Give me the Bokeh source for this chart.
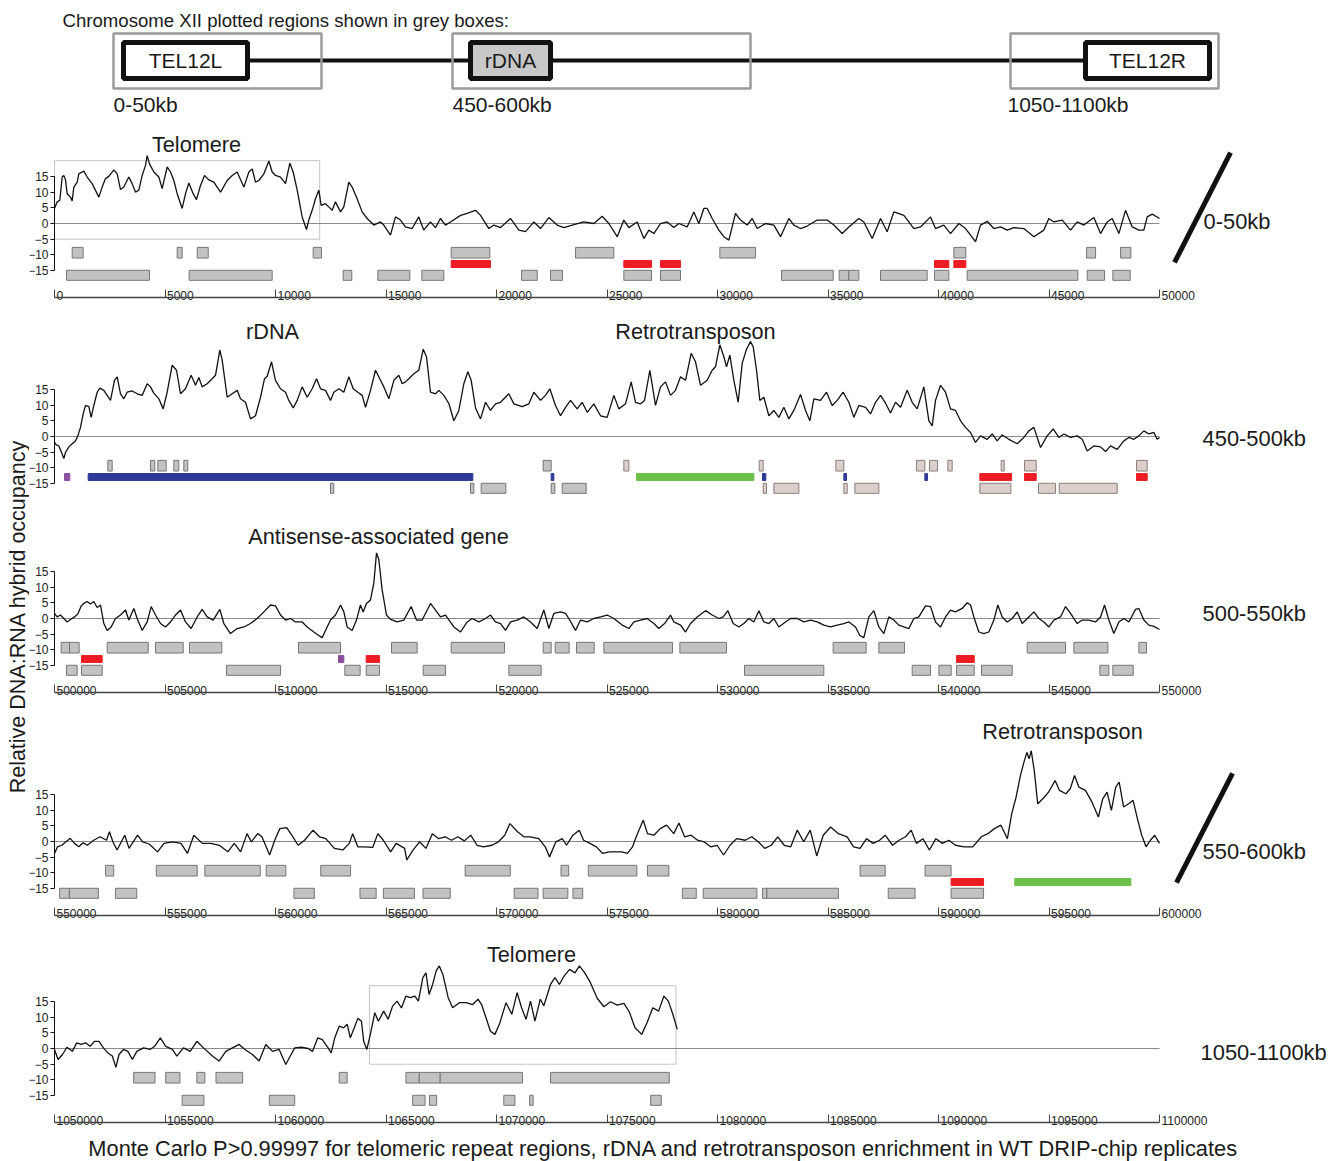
import math
from bokeh.plotting import figure
from bokeh.models import Range1d, LinearAxis, FixedTicker
from bokeh.layouts import column, row
from bokeh.embed import file_html
from bokeh.resources import INLINE
from bokeh.core.properties import value

FONT = "Liberation Sans"

# ---------------- data ----------------
panel_starts = [0, 450000, 500000, 550000, 1050000]
panel_labels = ["0-50kb", "450-500kb", "500-550kb", "550-600kb", "1050-1100kb"]
y_ticks = [-15, -10, -5, 0, 5, 10, 15]

p1_trace = [(0,4.8),(121,6.9),(241,7.4),(347,14.8),(422,15.3),(498,13.9),(573,9.5),(724,8.4),(799,7.2),(875,11.6),(1026,13.2),(1101,15.8),(1252,16.4),(1327,16.7),(1478,14.8),(1704,12.7),(2006,8.4),(2157,11.6),(2308,14.3),(2459,15.0),(2685,17.1),(2836,15.8),(2987,10.8),(3137,11.6),(3364,14.8),(3514,12.7),(3665,10.0),(3816,10.6),(3967,15.3),(4118,18.5),(4193,21.6),(4299,19.0),(4495,16.4),(4721,14.8),(4872,11.1),(5098,18.0),(5249,16.4),(5400,13.7),(5551,9.5),(5777,4.8),(5928,9.5),(6078,12.9),(6275,9.5),(6425,7.6),(6607,12.1),(6788,15.3),(6984,13.9),(7211,13.2),(7512,10.0),(7814,13.7),(8040,15.3),(8266,16.4),(8568,11.6),(8795,16.4),(8945,17.4),(9096,13.2),(9246,13.7),(9473,15.8),(9699,19.9),(9850,16.4),(10000,15.3),(10227,14.8),(10453,12.7),(10649,19.2),(10800,16.4),(10981,10.6),(11207,2.1),(11403,-1.9),(11508,1.1),(11659,4.2),(11810,7.9),(11961,10.6),(12066,5.8),(12262,6.3),(12412,5.3),(12563,4.2),(12714,6.9),(12940,3.7),(13091,5.3),(13317,13.2),(13468,11.6),(13694,7.9),(13920,3.7),(14148,1.6),(14449,-0.5),(14750,0.5),(14900,-0.5),(15202,-3.7),(15428,2.1),(15654,1.1),(15880,-1.1),(16182,-1.6),(16483,2.1),(16709,-2.1),(17010,0.5),(17236,-1.3),(17463,1.6),(17689,-0.5),(17919,0.5),(18372,2.6),(18673,3.2),(19050,4.2),(19277,2.6),(19654,-1.6),(19880,-0.5),(20182,-1.3),(20634,1.6),(21011,-2.1),(21313,-2.6),(21690,0.5),(21992,-1.6),(22369,1.9),(22746,-0.5),(23047,-1.3),(23425,-0.5),(23952,0.5),(24405,0.0),(24782,2.3),(25084,0.0),(25461,-4.2),(25762,1.1),(25989,-1.3),(26366,0.5),(26667,-4.8),(26894,-2.1),(27120,-3.2),(27422,0.0),(27723,0.5),(28025,-1.3),(28251,0.0),(28628,-1.1),(28930,3.7),(29156,0.0),(29383,4.8),(29533,4.8),(29760,1.6),(30061,-2.1),(30287,-4.2),(30514,-5.3),(30815,3.2),(31042,1.1),(31343,-0.5),(31570,1.6),(31796,-1.6),(32173,0.0),(32550,-0.5),(32852,-4.2),(33229,1.6),(33455,-0.5),(33757,-1.6),(34058,-0.8),(34511,1.1),(34963,1.1),(35265,-0.5),(35642,-3.2),(35944,-1.1),(36396,1.6),(36622,0.5),(36999,-4.8),(37377,1.6),(37678,-2.6),(37980,3.7),(38432,2.6),(38659,0.5),(38885,-1.6),(39187,-1.1),(39639,2.1),(39865,-1.6),(40242,-0.5),(40544,-3.2),(40921,0.0),(41223,-1.6),(41675,-5.8),(41902,-0.5),(42203,0.7),(42505,-1.6),(42807,-1.1),(43108,-2.1),(43410,-1.3),(43862,-1.6),(44315,-4.2),(44767,-2.1),(44993,1.6),(45220,0.5),(45597,1.1),(45974,-2.1),(46276,0.5),(46577,-0.5),(47030,1.9),(47332,-3.2),(47633,0.5),(47860,1.6),(48161,-3.2),(48463,4.2),(48765,-1.1),(49066,-2.1),(49292,-2.1),(49443,2.1),(49670,3.0),(50000,1.6)]

p2_trace = [(0,-1.9),(90,-2.7),(196,-3.0),(302,-4.8),(422,-7.0),(498,-5.1),(649,-3.3),(799,-2.3),(950,-1.4),(1056,0.2),(1177,2.9),(1297,7.2),(1403,9.9),(1554,9.5),(1659,6.1),(1780,9.9),(1931,14.1),(2051,15.4),(2232,14.7),(2383,13.1),(2534,11.5),(2715,17.9),(2836,19.0),(2987,13.6),(3137,12.0),(3288,14.1),(3514,14.5),(3741,13.6),(3967,13.1),(4193,16.8),(4344,15.8),(4495,13.8),(4721,12.0),(4917,8.8),(5098,14.1),(5325,22.7),(5521,21.1),(5702,13.6),(5928,15.2),(6184,19.5),(6380,16.3),(6531,18.8),(6682,15.8),(6908,16.8),(7135,18.4),(7285,19.5),(7481,27.5),(7587,24.3),(7814,12.5),(8040,13.6),(8266,14.7),(8417,12.0),(8643,10.9),(8869,5.6),(9096,6.6),(9322,12.5),(9503,18.4),(9624,19.2),(9820,23.8),(10000,17.9),(10227,15.2),(10453,14.1),(10604,11.5),(10800,9.1),(10981,11.5),(11207,15.8),(11433,12.5),(11659,15.2),(11856,18.4),(12037,15.2),(12262,14.7),(12489,11.5),(12640,14.1),(12866,15.2),(13092,14.1),(13318,19.0),(13515,15.2),(13726,14.1),(13922,13.1),(14073,9.3),(14299,14.7),(14525,21.1),(14752,17.9),(14902,15.8),(15128,12.0),(15355,17.9),(15581,19.5),(15732,16.8),(15883,17.4),(16033,18.4),(16260,20.0),(16486,21.1),(16682,27.8),(16833,25.4),(17014,14.1),(17240,13.6),(17391,14.7),(17617,13.1),(17844,10.5),(18070,5.0),(18296,8.3),(18522,16.8),(18703,20.6),(18854,17.9),(19050,9.1),(19277,5.6),(19503,10.9),(19729,8.3),(19955,10.4),(20182,10.9),(20558,13.6),(20785,10.4),(21162,9.5),(21464,10.4),(21690,14.1),(21992,11.5),(22218,13.1),(22414,15.2),(22670,9.9),(22897,6.6),(23123,9.3),(23349,11.5),(23651,8.8),(23877,10.9),(24103,7.7),(24405,10.4),(24707,6.6),(25008,6.1),(25310,13.1),(25536,8.8),(25838,10.4),(26094,17.4),(26290,10.9),(26517,10.4),(26698,11.5),(26939,21.1),(27195,9.9),(27422,15.8),(27648,17.4),(27874,13.1),(28100,14.7),(28327,19.0),(28553,17.9),(28809,26.5),(29005,23.8),(29232,16.3),(29533,17.9),(29760,21.1),(29910,22.2),(30106,29.2),(30287,25.4),(30408,22.2),(30559,25.9),(30740,17.9),(30936,10.9),(31117,23.3),(31313,27.8),(31494,30.2),(31615,28.6),(31766,21.1),(31916,11.5),(32097,12.5),(32324,6.6),(32550,8.3),(32776,6.1),(33002,9.3),(33229,5.6),(33455,8.3),(33757,13.4),(33983,8.3),(34179,5.0),(34360,12.0),(34662,11.5),(34933,14.1),(35190,9.9),(35416,11.5),(35687,14.1),(35943,10.9),(36170,6.1),(36396,9.9),(36698,9.3),(36924,7.2),(37150,10.9),(37377,13.1),(37603,10.6),(37829,7.5),(38055,10.9),(38282,9.3),(38583,14.7),(38810,10.9),(39036,8.8),(39337,15.8),(39564,5.0),(39715,3.4),(39865,11.5),(40092,16.3),(40318,14.1),(40544,8.8),(40770,8.3),(40997,5.0),(41223,2.9),(41449,1.3),(41675,-1.9),(41902,0.2),(42203,-0.9),(42430,0.8),(42656,-1.4),(42882,0.5),(43184,-0.9),(43561,-2.3),(43862,-0.3),(44089,1.8),(44315,2.9),(44617,-3.5),(44918,0.2),(45190,2.4),(45446,-0.3),(45672,0.8),(45974,-0.3),(46276,0.2),(46502,-0.9),(46728,-4.6),(47030,-3.0),(47332,-3.3),(47558,-4.8),(47784,-3.0),(48086,-4.1),(48387,-1.4),(48614,-0.3),(48840,-0.9),(49066,0.2),(49292,1.8),(49519,0.8),(49745,1.3),(49896,-0.9),(50000,-0.3)]

p3_trace = [(0,1.6),(121,0.5),(271,1.1),(422,0.0),(573,-1.1),(724,-0.3),(905,0.5),(1056,1.4),(1207,4.0),(1327,4.8),(1478,5.4),(1629,4.6),(1780,5.4),(1931,3.5),(2082,4.3),(2232,-1.6),(2383,-3.8),(2564,-2.7),(2760,0.0),(2987,1.1),(3213,2.7),(3364,-0.5),(3590,3.2),(3741,0.0),(3967,-3.8),(4193,-1.1),(4374,3.8),(4570,1.1),(4797,-1.6),(5023,-2.7),(5249,-1.1),(5475,1.1),(5702,2.7),(5928,-1.1),(6184,-3.2),(6456,0.5),(6682,2.9),(6908,0.5),(7180,-0.5),(7481,2.9),(7663,-1.6),(7964,-4.8),(8266,-3.2),(8568,-2.7),(8869,-1.6),(9171,0.0),(9473,2.1),(9775,4.3),(10000,4.0),(10227,1.1),(10453,-0.5),(10679,0.0),(10905,-1.1),(11207,-1.1),(11433,-2.7),(11735,-4.3),(11961,-5.4),(12112,-6.1),(12262,-3.8),(12489,-0.5),(12714,1.1),(12941,4.3),(13092,2.1),(13242,-2.7),(13468,-3.8),(13664,-0.5),(13845,4.3),(13966,2.1),(14117,4.8),(14298,5.9),(14449,11.3),(14570,20.9),(14675,18.8),(14826,9.1),(15022,1.1),(15203,-0.3),(15505,-1.1),(15806,-0.5),(16138,3.8),(16380,-0.5),(16636,-0.5),(17014,4.8),(17240,2.7),(17466,0.5),(17693,1.1),(18070,-2.7),(18372,-4.3),(18673,-1.1),(18900,0.0),(19201,-1.1),(19503,0.0),(19729,1.1),(19955,-1.1),(20182,-1.6),(20408,-3.8),(20634,-1.1),(20936,-0.5),(21237,0.5),(21539,-1.1),(21841,-3.2),(22142,2.7),(22369,-3.2),(22595,1.6),(22897,2.1),(23123,1.6),(23274,0.0),(23575,-3.8),(23802,-0.5),(24103,-1.1),(24405,0.0),(24707,0.5),(25008,1.1),(25310,0.0),(25687,-2.1),(25989,-3.2),(26215,-1.1),(26517,-0.5),(26818,0.0),(27120,-1.6),(27346,-3.2),(27603,-1.6),(27874,1.1),(28025,-1.1),(28327,-2.1),(28553,-4.3),(28779,-1.6),(29081,0.5),(29458,2.5),(29760,1.1),(30061,0.0),(30257,0.5),(30468,2.5),(30710,-1.6),(30966,-2.7),(31192,-1.6),(31419,0.0),(31645,-1.1),(31871,2.5),(32097,-1.1),(32324,-1.6),(32550,0.0),(32776,-2.7),(33078,-1.1),(33304,0.0),(33606,0.0),(33907,-1.1),(34209,-0.5),(34511,-1.1),(34812,-2.1),(35114,-2.7),(35416,-2.1),(35717,-1.6),(35944,-1.1),(36245,-2.7),(36441,-5.4),(36622,-6.1),(36849,0.5),(37075,2.5),(37301,-2.7),(37527,-4.8),(37754,0.5),(37980,-0.5),(38206,-2.1),(38432,-2.7),(38659,-3.2),(38885,0.0),(39111,0.5),(39413,4.0),(39639,3.8),(39865,-1.1),(40092,-2.7),(40318,0.5),(40544,2.7),(40770,2.1),(41072,3.2),(41298,5.0),(41449,4.3),(41600,0.5),(41826,-4.3),(42052,-4.8),(42279,-4.3),(42505,-0.5),(42686,4.3),(42882,0.5),(43108,-1.1),(43335,0.0),(43561,2.1),(43787,-1.6),(44089,0.5),(44315,2.1),(44541,0.0),(44767,-1.1),(44993,-2.7),(45220,-0.5),(45522,0.5),(45748,3.8),(45974,1.6),(46276,-1.6),(46502,-0.5),(46804,-0.5),(47105,-1.1),(47332,0.5),(47513,4.3),(47709,-0.5),(47935,-4.8),(48161,-1.1),(48387,0.0),(48614,-1.1),(48915,2.9),(49066,3.2),(49292,-0.5),(49519,-2.1),(49745,-2.5),(50000,-3.5)]

p4_trace = [(0,-3.8),(135,-1.7),(328,-1.2),(520,-0.1),(713,1.0),(906,-0.6),(1099,-1.7),(1291,-0.4),(1484,-1.2),(1773,0.4),(2062,1.5),(2352,0.4),(2486,3.1),(2641,-0.1),(2833,-2.7),(3180,2.0),(3373,-2.2),(3759,2.0),(3990,-0.1),(4279,-0.8),(4665,-3.3),(4954,-0.6),(5339,-0.1),(5725,-0.6),(6014,-3.8),(6303,2.0),(6688,-0.6),(7074,-0.6),(7459,-1.2),(7845,-3.3),(8134,-0.6),(8423,-3.3),(8712,2.5),(8905,-0.1),(9194,2.5),(9387,1.5),(9734,-4.3),(9965,0.4),(10196,4.1),(10505,4.4),(10736,2.0),(11025,-1.2),(11314,0.4),(11700,3.6),(11989,1.5),(12278,0.9),(12664,-2.2),(13049,-2.7),(13338,-0.6),(13493,2.5),(13724,-1.7),(14013,-1.7),(14398,-1.9),(14630,2.5),(14880,0.4),(15208,-3.3),(15459,-0.6),(15844,-2.2),(15940,-5.9),(16230,-2.7),(16519,-0.1),(16808,-2.2),(17097,2.5),(17386,0.9),(17675,1.5),(17964,0.4),(18253,1.5),(18543,0.2),(18832,2.0),(19121,-1.2),(19410,-1.7),(19795,-1.2),(20085,-0.1),(20374,2.0),(20605,5.7),(20952,3.1),(21241,1.5),(21530,1.5),(21916,0.9),(22205,-1.7),(22398,-4.9),(22687,-0.1),(22976,0.9),(23168,-1.2),(23457,2.0),(23746,3.6),(23939,0.4),(24228,-0.6),(24517,-1.7),(24806,-3.8),(25096,-3.3),(25385,-3.3),(25674,-3.3),(25924,-3.8),(26156,-1.7),(26349,2.0),(26638,6.8),(26831,2.5),(27120,2.0),(27409,4.1),(27698,5.2),(28020,2.5),(28255,5.9),(28510,1.5),(28804,2.0),(29098,0.4),(29392,-0.1),(29686,-1.7),(29980,-1.2),(30275,-4.3),(30569,-1.2),(30863,0.9),(31255,0.4),(31549,1.5),(31843,-0.1),(32137,-2.2),(32431,-1.2),(32726,1.5),(33020,-1.2),(33314,-1.7),(33608,3.6),(33902,-0.1),(34196,3.6),(34490,-4.6),(34784,2.0),(35118,4.6),(35471,2.5),(35863,1.5),(36157,-1.7),(36451,-2.2),(36745,0.9),(37039,-0.6),(37333,0.4),(37588,2.0),(37922,-1.2),(38216,0.4),(38510,1.5),(38765,3.6),(39000,-0.6),(39294,0.9),(39588,-2.7),(39882,0.9),(40176,-0.6),(40471,0.4),(40765,-1.2),(41157,-1.7),(41549,-1.7),(41941,1.5),(42235,2.5),(42529,4.1),(42824,5.2),(43118,0.9),(43314,8.9),(43510,14.1),(43706,21.0),(43863,25.2),(44000,28.4),(44098,26.3),(44196,28.9),(44333,22.6),(44490,12.0),(44784,14.1),(44980,15.7),(45275,19.4),(45471,16.3),(45765,15.2),(45961,16.8),(46157,21.0),(46353,17.3),(46647,16.3),(46941,12.6),(47235,7.8),(47431,13.6),(47627,15.7),(47824,9.9),(48020,17.3),(48176,18.9),(48373,11.0),(48608,12.0),(48804,13.1),(49000,7.3),(49196,2.0),(49392,-1.7),(49588,0.4),(49784,2.0),(50000,-0.6)]

p5_trace = [(0,-0.3),(161,-3.5),(362,-1.9),(564,0.4),(805,-0.9),(1006,1.8),(1208,1.3),(1409,1.8),(1610,0.7),(1812,2.3),(2013,2.3),(2214,0.2),(2415,-1.4),(2617,-2.4),(2778,-6.0),(2919,-1.9),(3120,-0.3),(3321,-0.9),(3523,-3.5),(3724,-0.9),(4026,0.2),(4328,-0.3),(4529,0.7),(4791,3.4),(5032,0.7),(5334,-0.3),(5535,-2.4),(5837,0.2),(6139,-0.9),(6441,2.3),(6743,0.2),(7146,-2.4),(7448,-4.0),(7750,-0.9),(8052,0.2),(8354,1.3),(8615,-0.3),(8957,-1.9),(9259,-4.0),(9561,1.3),(9863,-0.9),(10165,-0.3),(10467,-5.1),(10668,-2.4),(10870,0.2),(11172,0.4),(11474,0.0),(11675,-0.9),(11916,3.4),(12118,2.8),(12379,0.2),(12520,-1.4),(12681,3.4),(12883,7.1),(13084,6.6),(13245,7.7),(13386,3.4),(13587,7.0),(13728,9.6),(13889,8.7),(13990,2.3),(14131,-0.3),(14292,4.5),(14493,11.4),(14654,8.7),(14896,11.9),(15097,9.3),(15298,13.5),(15499,15.1),(15701,12.9),(15902,16.7),(16103,16.2),(16304,16.7),(16466,15.1),(16667,22.6),(16808,24.1),(16949,17.2),(17110,20.4),(17271,24.7),(17412,26.3),(17573,23.6),(17814,16.2),(18015,13.0),(18317,14.6),(18619,14.6),(18921,14.0),(19163,15.7),(19324,14.0),(19525,9.8),(19726,5.5),(19928,4.5),(20129,7.7),(20431,14.6),(20693,10.9),(20934,17.8),(21135,13.0),(21337,9.3),(21538,15.1),(21739,8.7),(21981,15.7),(22142,13.6),(22444,20.4),(22645,22.6),(22846,20.4),(23048,23.0),(23309,25.2),(23551,24.1),(23752,26.3),(23994,24.1),(24255,20.9),(24557,16.0),(24859,13.3),(25161,14.9),(25463,13.8),(25765,14.4),(26006,11.7),(26268,6.6),(26570,4.5),(26811,8.2),(27073,13.0),(27335,11.9),(27576,16.7),(27777,15.1),(27979,10.9),(28180,6.1)]

# feature boxes: (start offset, end offset, kind) g=grey p=pink r=red b=blue v=purple G=green
p1_top = [(799,1297,"g"),(5551,5777,"g"),(6457,6955,"g"),(11705,12082,"g"),(17950,19698,"g"),(23576,25310,"g"),(30106,31722,"g"),(40694,41237,"g"),(46700,47107,"g"),(48239,48704,"g")]
p1_mid = [(17950,19728,"r"),(25762,27014,"r"),(27422,28326,"r"),(39820,40468,"r"),(40694,41237,"r")]
p1_bot = [(543,4299,"g"),(6093,9850,"g"),(13062,13453,"g"),(14630,16078,"g"),(16622,17617,"g"),(21132,21842,"g"),(22444,22987,"g"),(25762,27014,"g"),(27422,28326,"g"),(32897,35235,"g"),(35506,35944,"g"),(35944,36396,"g"),(37377,39488,"g"),(39820,40468,"g"),(41298,46306,"g"),(46728,47513,"g"),(47890,48674,"g")]

p2_top = [(2413,2610,"g"),(4344,4539,"g"),(4675,5053,"g"),(5399,5625,"g"),(5851,6032,"g"),(22112,22474,"g"),(25762,25989,"p"),(31886,32067,"p"),(35355,35717,"p"),(39006,39382,"p"),(39594,39956,"p"),(40423,40620,"p"),(42837,42973,"p"),(43893,44421,"p"),(48961,49443,"p")]
p2_mid = [(452,694,"v"),(1523,18929,"b"),(22474,22595,"b"),(26336,31645,"G"),(32037,32188,"b"),(35717,35838,"b"),(39382,39504,"b"),(41871,43304,"r"),(43893,44421,"r"),(48961,49443,"r")]
p2_bot = [(12489,12639,"g"),(18824,18975,"g"),(19307,20423,"g"),(22474,22640,"g"),(22972,24058,"g"),(32067,32218,"p"),(32550,33681,"p"),(35717,35869,"p"),(36215,37301,"p"),(41871,43274,"p"),(44526,45295,"p"),(45461,48086,"p")]

p3_top = [(302,679,"g"),(679,1116,"g"),(2383,4240,"g"),(4570,5823,"g"),(6109,7571,"g"),(11041,12942,"g"),(15249,16410,"g"),(17949,20363,"g"),(22112,22474,"g"),(22655,23288,"g"),(23620,24420,"g"),(24857,27965,"g"),(28297,30409,"g"),(35234,36727,"g"),(37301,38463,"g"),(44013,45748,"g"),(46125,47664,"g"),(49066,49413,"g")]
p3_mid = [(1222,2157,"r"),(12851,13092,"v"),(14104,14706,"r"),(40816,41617,"r")]
p3_bot = [(543,1026,"g"),(1222,2157,"g"),(7783,10227,"g"),(13137,13831,"g"),(14104,14706,"g"),(16683,17693,"g"),(20558,22022,"g"),(31222,34811,"g"),(38810,39639,"g"),(40016,40574,"g"),(40816,41617,"g"),(41947,43336,"g"),(47301,47709,"g"),(47890,48812,"g")]

p4_top = [(2313,2679,"g"),(4607,6457,"g"),(6804,9310,"g"),(9580,10467,"g"),(12047,13397,"g"),(18582,20625,"g"),(22919,23266,"g"),(24153,26350,"g"),(26832,27800,"g"),(36451,37588,"g"),(39392,40569,"g")]
p4_mid = [(40569,42039,"r"),(43451,48706,"G")]
p4_bot = [(231,675,"g"),(675,1986,"g"),(2757,3721,"g"),(10833,11759,"g"),(13822,14555,"g"),(14881,16288,"g"),(16674,17908,"g"),(20799,21879,"g"),(22110,23228,"g"),(23459,23902,"g"),(28412,29039,"g"),(29353,31784,"g"),(32039,32235,"g"),(32235,35471,"g"),(37725,38941,"g"),(40569,42039,"g")]

p5_top = [(3583,4549,"g"),(5032,5676,"g"),(6441,6804,"g"),(7307,8515,"g"),(12883,13245,"g"),(15902,16506,"g"),(16506,17452,"g"),(17452,21176,"g"),(22444,27818,"g")]
p5_mid = []
p5_bot = [(5777,6763,"g"),(9722,10870,"g"),(16204,16767,"g"),(16969,17291,"g"),(20330,20834,"g"),(21498,21659,"g"),(26973,27456,"g")]

# telomeric enrichment windows (offsets) with their y extent
p1_window = (0, 12000, -5, 20)
p5_window = (14251, 28120, -5, 20)

# panel annotations: (text, x offset, y)
p1_titles = [("Telomere", 6426, 25.2)]
p2_titles = [("rDNA", 9865, 33.4), ("Retrotransposon", 29005, 33.4)]
p3_titles = [("Antisense-associated gene", 14661, 26.1)]
p4_titles = [("Retrotransposon", 45612, 35.0)]
p5_titles = [("Telomere", 21584, 29.9)]

# ---------------- styling / layout ----------------
KIND = {"g": ("#c2c2c2", "#767676"), "p": ("#dccfcb", "#8a7e7a"), "r": ("#ec1c24", "#ec1c24"),
        "b": ("#2e3a96", "#2e3a96"), "v": ("#8b4fa0", "#8b4fa0"), "G": ("#6cc04a", "#6cc04a")}
ROWS = {"top": (-11.0, -7.6), "mid": (-14.0, -11.8), "bot": (-18.1, -14.9)}
TOTAL_W = 1336
YLAB_W = 29
PANEL_W = TOTAL_W - YLAB_W
AXIS_PX = 54                  # page x of the data origin
BP_PX = 50000 / 1105.0
AXIS_Y = -23.7
TXT = "#1a1a1a"


def add_text(p, x, y, s, size, align="left", baseline="middle", angle=0, color=TXT):
    p.text(x=[x], y=[y], text=[s], angle=angle, text_font=value(FONT), text_font_size=size,
           text_align=align, text_baseline=baseline, text_color=color)


def make_panel(x0, trace, top, mid, bot, titles, label, label_pos, slash, window, has_axis, height, yr):
    xr = Range1d(x0 - (AXIS_PX - YLAB_W) * BP_PX, x0 + (TOTAL_W - AXIS_PX) * BP_PX)
    p = figure(width=PANEL_W, height=height, x_range=xr,
               y_range=Range1d(*yr), x_axis_location=None, y_axis_location=None,
               toolbar_location=None, output_backend="svg", min_border=0)
    p.outline_line_color = None
    p.grid.visible = False

    if window is not None:
        a, b, lo, hi = window
        p.quad(left=[x0 + a], right=[x0 + b], bottom=[lo], top=[hi], fill_color=None,
               line_color="#c4c4c4", line_width=1)
    p.segment(x0=[x0], x1=[x0 + 50000], y0=[0], y1=[0], line_color="#8a8a8a", line_width=1.2)
    p.line([x0 + t[0] for t in trace], [t[1] for t in trace], line_color="#111111", line_width=1.3)

    L, R, B, T, F, C = [], [], [], [], [], []
    for rname, items in (("top", top), ("mid", mid), ("bot", bot)):
        lo, hi = ROWS[rname]
        for s, e, k in items:
            L.append(x0 + s); R.append(x0 + e); B.append(lo); T.append(hi)
            F.append(KIND[k][0]); C.append(KIND[k][1])
    p.quad(left=L, right=R, bottom=B, top=T, fill_color=F, line_color=C, line_width=1)

    ya = LinearAxis(ticker=FixedTicker(ticks=y_ticks), bounds=(-15, 15), major_tick_out=4,
                    major_tick_in=0, minor_tick_line_color=None, axis_line_color="#111111",
                    major_tick_line_color="#111111", major_label_text_font=FONT,
                    major_label_text_font_size="12px", major_label_text_color="#222222",
                    major_label_standoff=2, fixed_location=x0)
    p.add_layout(ya, "left")

    if has_axis:
        ticks = [x0 + 5000 * i for i in range(11)]
        xa = LinearAxis(ticker=FixedTicker(ticks=ticks), bounds=(x0, x0 + 50000),
                        fixed_location=AXIS_Y, major_tick_in=8, major_tick_out=0,
                        minor_tick_line_color=None, major_label_text_color=None,
                        axis_line_color="#444444", axis_line_width=1.5,
                        major_tick_line_color="#444444")
        p.add_layout(xa, "below")
        p.text(x=ticks, y=[AXIS_Y] * len(ticks), text=[str(t) for t in ticks], x_offset=2,
               y_offset=-2, text_align="left", text_baseline="alphabetic",
               text_font=value(FONT), text_font_size="12px", text_color="#222222")

    for s, xo, yv in titles:
        add_text(p, x0 + xo, yv, s, "21.7px", align="center")
    lx, ly = label_pos
    add_text(p, x0 + lx, ly, label, "21.9px")
    if slash is not None:
        (sx0, sy0), (sx1, sy1) = slash
        p.segment(x0=[x0 + sx0], y0=[sy0], x1=[x0 + sx1], y1=[sy1], line_color="#111111",
                  line_width=5)
    return p


p1 = make_panel(panel_starts[0], p1_trace, p1_top, p1_mid, p1_bot, p1_titles, panel_labels[0],
                (51992, 0.6), ((50680, -12.4), (53214, 22.6)), p1_window, True, 180, (-26.11, 31.21))
p2 = make_panel(panel_starts[1], p2_trace, p2_top, p2_mid, p2_bot, p2_titles, panel_labels[1],
                (51947, -0.6), None, None, False, 195, (-20.38, 41.72))
p3 = make_panel(panel_starts[2], p3_trace, p3_top, p3_mid, p3_bot, p3_titles, panel_labels[2],
                (51947, 1.6), None, None, True, 205, (-27.71, 37.58))
p4 = make_panel(panel_starts[3], p4_trace, p4_top, p4_mid, p4_bot, p4_titles, panel_labels[3],
                (51947, -3.2), ((50770, -13.1), (53305, 21.7)), None, True, 223, (-27.71, 43.31))
p5 = make_panel(panel_starts[4], p5_trace, p5_top, p5_mid, p5_bot, p5_titles, panel_labels[4],
                (51857, -1.3), None, p5_window, True, 202, (-26.11, 38.22))

# ---------------- chromosome schematic ----------------
schem = figure(width=TOTAL_W, height=125, x_range=Range1d(0, TOTAL_W), y_range=Range1d(125, 0),
               x_axis_location=None, y_axis_location=None, toolbar_location=None,
               output_backend="svg", min_border=0)
schem.outline_line_color = None
schem.grid.visible = False

chrom_line = (248, 1085, 60)
outer_boxes = [(113, 321), (452, 750), (1010, 1218)]
inner_boxes = [(123, 247, "white"), (470, 550, "#c8c8c8"), (1085, 1209, "white")]
feature_names = ["TEL12L", "rDNA", "TEL12R"]
region_names = ["0-50kb", "450-600kb", "1050-1100kb"]
region_x = [113, 452, 1007]

schem.segment(x0=[chrom_line[0]], x1=[chrom_line[1]], y0=[chrom_line[2]], y1=[chrom_line[2]],
              line_color="#111111", line_width=4)
schem.quad(left=[b[0] for b in outer_boxes], right=[b[1] for b in outer_boxes],
           top=[33] * 3, bottom=[88] * 3, fill_color=None, line_color="#9b9b9b", line_width=2.5)
schem.quad(left=[b[0] for b in inner_boxes], right=[b[1] for b in inner_boxes],
           top=[42] * 3, bottom=[78] * 3, fill_color=[b[2] for b in inner_boxes],
           line_color="#111111", line_width=5)
for (l, r, _), name in zip(inner_boxes, feature_names):
    add_text(schem, (l + r) / 2, 60, name, "21px", align="center")
for xx, name in zip(region_x, region_names):
    add_text(schem, xx, 104, name, "21px")
add_text(schem, 62, 20, "Chromosome XII plotted regions shown in grey boxes:", "18.6px")

# ---------------- y label & caption ----------------
ylab = figure(width=YLAB_W, height=1005, x_range=Range1d(0, YLAB_W), y_range=Range1d(0, 1005),
              x_axis_location=None, y_axis_location=None, toolbar_location=None,
              output_backend="svg", min_border=0)
ylab.outline_line_color = None
ylab.grid.visible = False
add_text(ylab, 17, 1005 - (616 - 125), "Relative DNA:RNA hybrid occupancy", "21.5px",
         align="center", angle=math.pi / 2)

cap = figure(width=TOTAL_W, height=31, x_range=Range1d(0, TOTAL_W), y_range=Range1d(1161, 1130),
             x_axis_location=None, y_axis_location=None, toolbar_location=None,
             output_backend="svg", min_border=0)
cap.outline_line_color = None
cap.grid.visible = False
add_text(cap, 663, 1148, "Monte Carlo P>0.99997 for telomeric repeat regions, rDNA and retrotransposon enrichment in WT DRIP-chip replicates", "21.8px", align="center")

layout = column(schem, row(ylab, column(p1, p2, p3, p4, p5)), cap)

open("out.html", "w").write(file_html(layout, INLINE, "Chromosome XII DRIP-chip"))
